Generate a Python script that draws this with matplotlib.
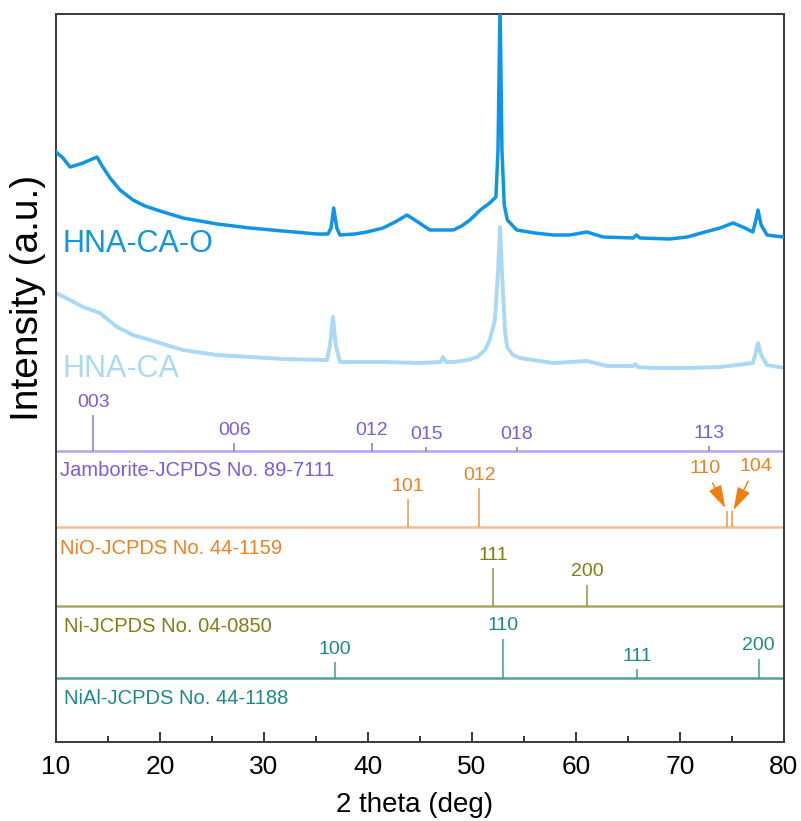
import matplotlib.pyplot as plt
from matplotlib.ticker import MultipleLocator

plt.rcParams['font.family'] = ['Liberation Sans', 'DejaVu Sans']

# ---- measured patterns (2theta in deg, intensity in a.u.) ----
hna_ca_o_x = [10.0, 10.67, 11.35, 12.0, 12.6, 13.27, 13.94, 14.5, 15.2, 16.15, 17.4, 18.56, 19.7,
              22.2, 25.5, 28.65, 31.8, 35.1, 36.15, 36.45, 36.7, 37.0, 37.3, 38.75, 39.9, 41.45,
              42.6, 43.75, 44.8, 45.95, 48.2, 49.0, 49.8, 50.8, 51.7, 52.3, 52.5, 52.7, 52.88,
              53.1, 53.4, 54.3, 56.05, 57.8, 59.4, 61.05, 62.6, 65.5, 65.8, 66.15, 69.0, 70.7,
              72.4, 73.85, 75.1, 76.25, 77.0, 77.3, 77.5, 77.8, 78.37, 79.1, 80.0]
hna_ca_o_y = [590, 584, 575, 577, 579, 582, 585, 575, 564, 552, 542, 536, 532,
              524, 518, 514, 511, 508, 508, 514, 534, 514, 507, 508, 510, 514,
              520, 527, 520, 512, 512, 516, 522, 532, 539, 545, 592, 740, 592,
              537, 522, 512, 509, 507, 507, 510, 505, 504, 507, 504, 503, 505,
              510, 514, 519, 514, 510, 522, 532, 517, 507, 506, 505]

hna_ca_x = [10.0, 11.35, 12.6, 14.23, 15.87, 17.4, 19.04, 22.2, 25.5, 28.65, 31.8, 36.06, 36.35,
            36.63, 36.9, 37.3, 41.45, 45.0, 47.0, 47.2, 47.5, 48.2, 49.6, 50.5, 51.25, 51.7,
            52.2, 52.5, 52.7, 52.88, 53.17, 53.37, 53.94, 54.6, 57.8, 61.05, 63.0, 65.5, 65.7,
            65.96, 67.4, 70.7, 73.85, 76.25, 77.0, 77.3, 77.5, 77.8, 78.37, 80.0]
hna_ca_y = [449, 442, 435, 429, 415, 407, 402, 392, 387, 385, 383, 382, 397,
            425, 397, 380, 380, 379, 380, 385, 380, 380, 382, 385, 392, 402,
            422, 470, 515, 470, 412, 395, 387, 384, 379, 381, 376, 376, 378,
            375, 374, 374, 375, 378, 379, 390, 399, 387, 377, 374]

# ---- reference cards ----
jam_pos = [13.6, 27.15, 40.35, 45.6, 54.3, 72.8]
jam_h = [36, 8, 8, 4, 4, 5]
jam_hkl = ['003', '006', '012', '015', '018', '113']

nio_pos = [43.8, 50.7, 74.5, 75.0]
nio_h = [28, 39, 16, 16]
nio_hkl = ['101', '012', '110', '104']

ni_pos = [52.05, 61.1]
ni_h = [38, 21]
ni_hkl = ['111', '200']

nial_pos = [36.8, 52.98, 65.9, 77.55]
nial_h = [16, 39, 9, 19]
nial_hkl = ['100', '110', '111', '200']

fig = plt.figure(figsize=(8.01, 8.21), dpi=100)
ax = fig.add_axes([56 / 801, 79 / 821, 728 / 801, 728 / 821])

c_dark = '#0F95E6'
c_light = '#A9D9F6'
ax.plot(hna_ca_x, hna_ca_y, color=c_light, lw=2.8, zorder=2)
ax.plot(hna_ca_o_x, hna_ca_o_y, color=c_dark, lw=2.5, zorder=3)
ax.text(10.6, 498, 'HNA-CA-O', color=c_dark, fontsize=22, va='center', ha='left')
ax.text(10.6, 373, 'HNA-CA', color=c_light, fontsize=22, va='center', ha='left')

cards = [
    (jam_pos, jam_h, jam_hkl, 291, '#7B5CDD', '#B3A3F0', 'Jamborite-JCPDS No. 89-7111', 10.4, 272),
    (nio_pos, nio_h, nio_hkl, 215, '#F0801E', '#F5BC8E', 'NiO-JCPDS No. 44-1159', 10.35, 194),
    (ni_pos, ni_h, ni_hkl, 136, '#7F7F14', '#A9A95E', 'Ni-JCPDS No. 04-0850', 10.75, 115),
    (nial_pos, nial_h, nial_hkl, 64, '#1C8A8C', '#4EA3A5', 'NiAl-JCPDS No. 44-1188', 10.75, 44),
]

for pos, h, hkl, base, col, lcol, name, nx, ny in cards:
    ax.axhline(base, color=lcol, lw=1.8, zorder=1)
    ax.vlines(pos, base, [base + v for v in h], color=col, lw=1.1, alpha=0.85, zorder=1)
    for p, v, lab in zip(pos, h, hkl):
        if lab in ('110', '104') and name.startswith('NiO'):
            continue
        ax.text(p, base + v + 13, lab, color=col, fontsize=14, ha='center', va='center')
    ax.text(nx, ny, name, color=col, fontsize=14.5, ha='left', va='center')

# crowded NiO lines get arrows
arrow = dict(arrowstyle='-|>,head_length=1.0,head_width=0.3', color='#F07F10', lw=1,
             shrinkA=3, shrinkB=0)
ax.annotate('110', xy=(74.35, 234), xytext=(72.4, 274), color='#F0801E', fontsize=14,
            ha='center', va='center', arrowprops=arrow)
ax.annotate('104', xy=(75.15, 232), xytext=(77.3, 276), color='#F0801E', fontsize=14,
            ha='center', va='center', arrowprops=arrow)

ax.set_xlim(10, 80)
ax.set_ylim(0, 728)
ax.set_yticks([])
ax.xaxis.set_major_locator(MultipleLocator(10))
ax.xaxis.set_minor_locator(MultipleLocator(5))
ax.tick_params(axis='x', which='major', direction='in', length=7.5, width=1.1, labelsize=19, pad=9)
ax.tick_params(axis='x', which='minor', direction='in', length=4.5, width=1.1)
for s in ax.spines.values():
    s.set_color('#3A3A3A')
    s.set_linewidth(1.4)

ax.set_xlabel('2 theta (deg)', fontsize=20)
ax.xaxis.set_label_coords(0.493, -0.068)
ax.set_ylabel('Intensity (a.u.)', fontsize=28)
ax.yaxis.set_label_coords(-0.014, 0.61)

fig.savefig('out.png', dpi=100)
